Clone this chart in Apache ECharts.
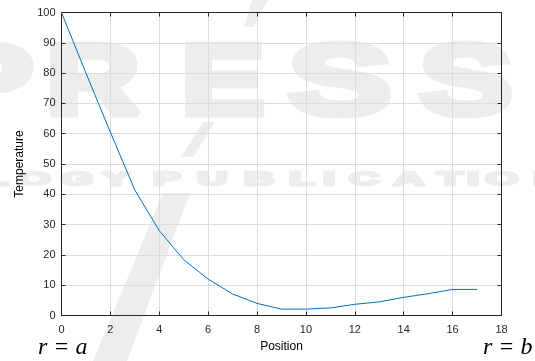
<!DOCTYPE html>
<html><head><meta charset="utf-8">
<script src="https://cdn.jsdelivr.net/npm/echarts@6/dist/echarts.min.js"></script>
<style>html,body{margin:0;padding:0;background:#fff}#c{width:535px;height:361px}</style>
</head><body><div id="c"></div>
<script>
const positions = [0,1,2,3,4,5,6,7,8,9,10,11,12,13,14,15,16,17];
const temperature = [100,80,60.5,41.4,28,18.4,12,7.1,4,2.1,2.1,2.5,3.7,4.5,6,7.2,8.6,8.6];
const xTicks = [0,2,4,6,8,10,12,14,16,18];
const yTicks = [0,10,20,30,40,50,60,70,80,90,100];

const chart = echarts.init(document.getElementById('c'), null, {renderer:'canvas'});
const axisCol = '#262626';
const wm = '#ededed';
const graphics = [];
// faint publisher watermark in the background
const bigLetters = [['P',-15,1.45],['R',93,1.3],['E',223,1.25],['S',340,1.55],['S',466,1.4]];
bigLetters.forEach(([ch,cx,sx]) => graphics.push({
  type:'text', z:-10, silent:true, x:cx, y:86, scaleX:sx, originX:0, originY:0,
  style:{text:ch, fill:wm, stroke:wm, lineWidth:7, font:'bold 100px "Liberation Sans", Arial', align:'center', verticalAlign:'middle'}
}));
const smallLetters = [['L',-5],['O',34],['G',77],['Y',116],['P',167],['U',212],['B',259],['L',302],['I',329],['C',364],['A',409],['T',450],['I',473],['O',502],['N',548]];
smallLetters.forEach(([ch,cx]) => graphics.push({
  type:'text', z:-10, silent:true, x:cx, y:180, scaleX:2.2, originX:0, originY:0,
  style:{text:ch, fill:wm, stroke:wm, lineWidth:2.5, font:'bold 19px "Liberation Sans", Arial', align:'center', verticalAlign:'middle'}
}));
const slashes = [
  [[163,193],[190,193],[127,361],[93,361]],
  [[252,0],[268,0],[253,27],[244,27]],
  [[203,122],[215,122],[193,157],[181,157]]
];
slashes.forEach(pts => graphics.push({type:'polygon', z:-10, silent:true, shape:{points:pts}, style:{fill:wm}}));
graphics.push({type:'text', x:38, y:348, style:{text:'r = a', fill:'#000', font:'italic 24px "Liberation Serif", "DejaVu Serif", serif', align:'left', verticalAlign:'middle'}});
graphics.push({type:'text', x:483, y:348, style:{text:'r = b', fill:'#000', font:'italic 24px "Liberation Serif", "DejaVu Serif", serif', align:'left', verticalAlign:'middle'}});

const baseX = {type:'value', min:xTicks[0], max:xTicks[xTicks.length-1], interval:2};
const baseY = {type:'value', min:yTicks[0], max:yTicks[yTicks.length-1], interval:10};
chart.setOption({
  animation:false,
  backgroundColor:'#fff',
  graphic: graphics,
  grid:{left:61.5, right:33.5, top:12.5, bottom:45.5, containLabel:false},
  xAxis:[
    Object.assign({}, baseX, {position:'bottom', name:'Position', nameLocation:'middle', nameGap:25,
      nameTextStyle:{color:'#000', fontSize:12, fontFamily:'"Liberation Sans", Arial'},
      axisLine:{show:true, onZero:false, lineStyle:{color:axisCol, width:1}},
      axisTick:{show:true, inside:true, length:4, lineStyle:{color:axisCol}},
      axisLabel:{color:axisCol, fontSize:11, margin:9, fontFamily:'"Liberation Sans", Arial'},
      splitLine:{show:true, lineStyle:{color:'#dcdcdc', width:1}}}),
    Object.assign({}, baseX, {position:'top',
      axisLine:{show:true, onZero:false, lineStyle:{color:axisCol, width:1}},
      axisTick:{show:true, inside:true, length:4, lineStyle:{color:axisCol}},
      axisLabel:{show:false}, splitLine:{show:false}})
  ],
  yAxis:[
    Object.assign({}, baseY, {position:'left', name:'Temperature', nameLocation:'middle', nameGap:36, nameRotate:90,
      nameTextStyle:{color:'#000', fontSize:12, fontFamily:'"Liberation Sans", Arial'},
      axisLine:{show:true, onZero:false, lineStyle:{color:axisCol, width:1}},
      axisTick:{show:true, inside:true, length:4, lineStyle:{color:axisCol}},
      axisLabel:{color:axisCol, fontSize:11, margin:6, fontFamily:'"Liberation Sans", Arial'},
      splitLine:{show:true, lineStyle:{color:'#dcdcdc', width:1}}}),
    Object.assign({}, baseY, {position:'right',
      axisLine:{show:true, onZero:false, lineStyle:{color:axisCol, width:1}},
      axisTick:{show:true, inside:true, length:4, lineStyle:{color:axisCol}},
      axisLabel:{show:false}, splitLine:{show:false}})
  ],
  series:[{
    type:'line', xAxisIndex:0, yAxisIndex:0, showSymbol:false, symbol:'none',
    data: positions.map((p,i)=>[p, temperature[i]]),
    lineStyle:{color:'#0072BD', width:1}
  }]
});
</script></body></html>
